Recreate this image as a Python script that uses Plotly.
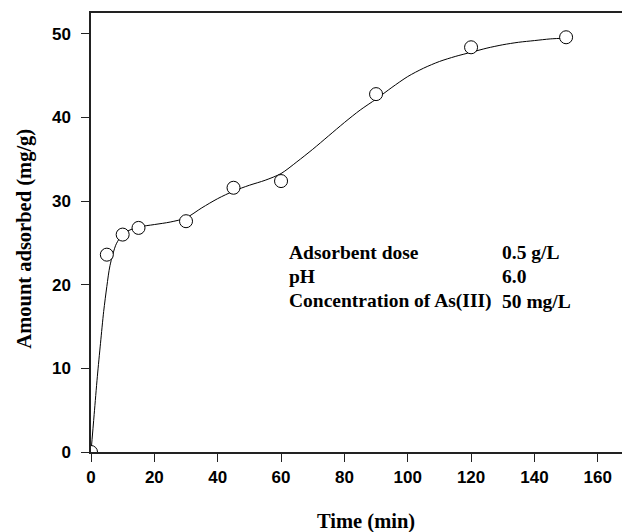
import plotly.graph_objects as go

# Measured data
time_min = [0, 5, 10, 15, 30, 45, 60, 90, 120, 150]
amount = [0, 23.6, 26.0, 26.8, 27.6, 31.6, 32.4, 42.8, 48.4, 49.6]

# Smooth fitted curve
curve_t = [0, 1, 2, 3, 4, 5, 6, 8, 10, 12, 15, 20, 25, 30, 35, 40, 45, 50, 55, 60,
           65, 70, 75, 80, 85, 90, 95, 100, 105, 110, 115, 120, 125, 130, 135, 140, 145, 150]
curve_q = [0, 4.5, 9.0, 13.0, 16.8, 19.8, 22.3, 24.9, 26.0, 26.5, 26.9, 27.2, 27.5, 28.0,
           29.2, 30.3, 31.2, 31.9, 32.5, 33.3, 34.7, 36.2, 37.8, 39.4, 40.9, 42.2, 43.6,
           44.9, 45.9, 46.7, 47.3, 47.8, 48.3, 48.7, 49.0, 49.2, 49.4, 49.5]

x_ticks = [0, 20, 40, 60, 80, 100, 120, 140, 160]
y_ticks = [0, 10, 20, 30, 40, 50]

info_labels = ["Adsorbent dose", "pH", "Concentration of As(III)"]
info_values = ["0.5 g/L", "6.0", "50 mg/L"]

# page body has an 8px margin; work in page coordinates shifted by OFF
OFF = 8
W, H = 630 - OFF, 532 - OFF
plot_left, plot_right, plot_top, plot_bottom = 91 - OFF, 625 - OFF, 13 - OFF, 451.7 - OFF
L, R, T, B = plot_left, W - plot_right, plot_top, H - plot_bottom
pw = plot_right - plot_left
ph = plot_bottom - plot_top


def px_x(px):
    return (px - OFF - plot_left) / pw


def px_y(py):
    return (plot_bottom - (py - OFF)) / ph


fig = go.Figure()
fig.add_trace(go.Scatter(x=curve_t, y=curve_q, mode="lines",
                         line=dict(color="black", width=1, shape="spline", smoothing=0.8),
                         hoverinfo="skip", showlegend=False))
fig.add_trace(go.Scatter(x=time_min, y=amount, mode="markers",
                         marker=dict(symbol="circle", size=13, color="white",
                                     line=dict(color="black", width=1)),
                         showlegend=False))

serif = "Liberation Serif, Times New Roman, serif"
sans = "Liberation Sans, Arial, sans-serif"

annotations = []
line_px = [252, 276.5, 301]
for lab, val, py in zip(info_labels, info_values, line_px):
    annotations.append(dict(xref="paper", yref="paper", x=px_x(287), y=px_y(py),
                            text="<b>" + lab + "</b>", showarrow=False,
                            xanchor="left", yanchor="middle",
                            font=dict(family=serif, size=19.5, color="black")))
    annotations.append(dict(xref="paper", yref="paper", x=px_x(500), y=px_y(py),
                            text="<b>" + val + "</b>", showarrow=False,
                            xanchor="left", yanchor="middle",
                            font=dict(family=serif, size=19.5, color="black")))

annotations.append(dict(xref="paper", yref="paper", x=px_x(365.5), y=px_y(521.5),
                        text="<b>Time (min)</b>", showarrow=False,
                        xanchor="center", yanchor="middle",
                        font=dict(family=serif, size=20.5, color="black")))
annotations.append(dict(xref="paper", yref="paper", x=px_x(25), y=px_y(238.5),
                        text="<b>Amount adsorbed (mg/g)</b>", showarrow=False, textangle=-90,
                        xanchor="center", yanchor="middle",
                        font=dict(family=serif, size=20.5, color="black")))

axis_common = dict(ticks="outside", ticklen=8, tickwidth=1.2, tickcolor="#222",
                   showline=True, linecolor="#222", linewidth=1.5, mirror=True,
                   showgrid=False, zeroline=False,
                   tickfont=dict(family=sans, size=17, color="black", weight="bold"))

fig.update_layout(
    width=W, height=H,
    autosize=False,
    margin=dict(l=L, r=R, t=T, b=B, pad=0, autoexpand=False),
    paper_bgcolor="white", plot_bgcolor="white",
    annotations=annotations,
    xaxis=dict(range=[0, 168.6], tickvals=x_ticks, ticklabelstandoff=1, **axis_common),
    yaxis=dict(range=[0, 52.5], tickvals=y_ticks, ticklabelstandoff=7, **axis_common),
    font=dict(family=sans),
)

fig.write_html("out.html")
